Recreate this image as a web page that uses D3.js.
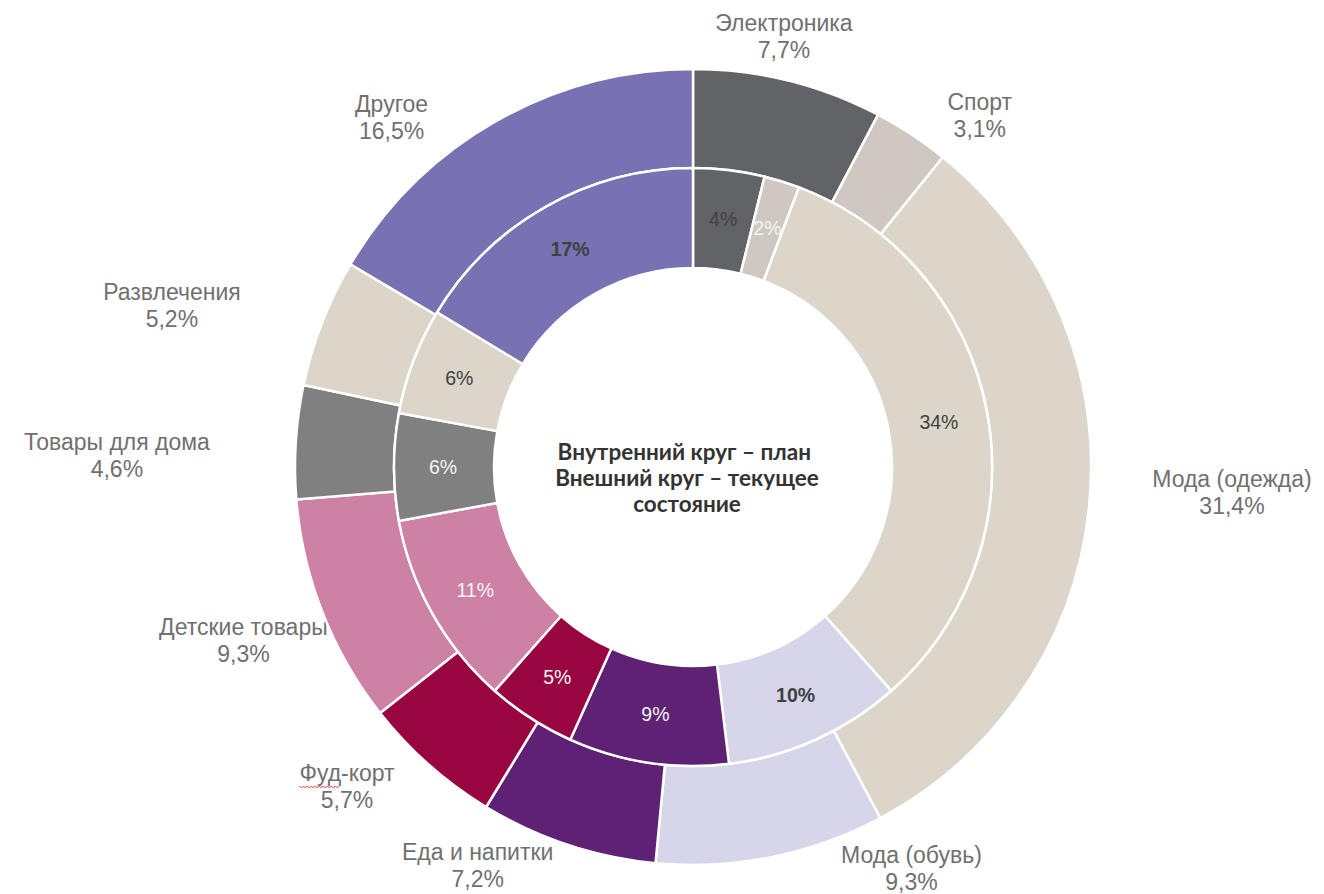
<!DOCTYPE html>
<html lang="ru">
<head>
<meta charset="utf-8">
<script src="https://cdn.jsdelivr.net/npm/d3@7"></script>
<style>
  html, body { margin: 0; padding: 0; background: #fff; }
  svg { display: block; }
  .cat-label { font-family: "Liberation Sans", Arial, sans-serif; font-size: 23px; fill: #707070; }
  .plan-label { font-family: "Liberation Sans", Arial, sans-serif; font-size: 19.5px; }
  .center-text { font-family: Lato, "Open Sans", sans-serif; font-weight: 700; font-size: 22.5px; fill: #333; }
</style>
</head>
<body>
<div id="chart"></div>
<script>
// categories, clockwise from 12 o'clock
const categories = ["Электроника", "Спорт", "Мода (одежда)", "Мода (обувь)", "Еда и напитки",
  "Фуд-корт", "Детские товары", "Товары для дома", "Развлечения", "Другое"];

// outer ring - current state, %
const currentShare = [7.7, 3.1, 31.4, 9.3, 7.2, 5.7, 9.3, 4.6, 5.2, 16.5];

// inner ring - plan, % (as labelled)
const planShare = [4, 2, 34, 10, 9, 5, 11, 6, 6, 17];

const centerLines = ["Внутренний круг – план ", "Внешний круг – текущее", "состояние"];

// palette + which inner labels are light
const colors = ["#626366", "#cec8c0", "#dbd6c9", "#d7d5ea", "#5f2173",
  "#980541", "#cd81a4", "#808080", "#dbd6c9", "#7872b3"];
const lightText = [false, true, false, false, true, true, true, true, false, false];
const boldText = [false, false, false, true, false, false, false, false, false, true];

// hand tweaks for the outer labels (Excel had them dragged around)
const labelNudge = [[-18, 10], [37, 27], [86, -19], [129, -46], [-72, -35],
  [-44, -22], [-26, 6], [-122, 16], [-97, 2], [-76, 44]];

const width = 1324, height = 894;
const cx = 693, cy = 467;
const rHole = 199, rMid = 299, rOuter = 398;

const ru = d3.formatLocale({decimal: ",", thousands: " ", grouping: [3], currency: ["", ""]});
const fmtPct = ru.format(".1f");

const svg = d3.select("#chart").append("svg")
    .attr("width", width)
    .attr("height", height);

const g = svg.append("g").attr("transform", "translate(" + cx + "," + cy + ")");

const pie = d3.pie().sort(null).value(d => d);

const outerArcs = pie(currentShare);
const innerArcs = pie(planShare);

const outerArc = d3.arc().innerRadius(rMid).outerRadius(rOuter);
const innerArc = d3.arc().innerRadius(rHole).outerRadius(rMid);
const labelArc = d3.arc().innerRadius(455).outerRadius(455);
const planLabelArc = d3.arc().innerRadius(250).outerRadius(250);

// labels of the outer ring go first, the slices sit on top of them
const labels = g.selectAll(".cat-label")
    .data(outerArcs)
    .enter().append("text")
    .attr("class", "cat-label")
    .attr("text-anchor", "middle")
    .attr("transform", (d, i) => {
        const c = labelArc.centroid(d);
        return "translate(" + (c[0] + labelNudge[i][0]) + "," + (c[1] + labelNudge[i][1]) + ")";
    });

labels.append("tspan").attr("x", 0).attr("y", -4).text((d, i) => categories[i]);
labels.append("tspan").attr("x", 0).attr("y", 23).text(d => fmtPct(d.data) + "%");

g.selectAll(".outer")
    .data(outerArcs)
    .enter().append("path")
    .attr("class", "outer")
    .attr("d", outerArc)
    .attr("fill", (d, i) => colors[i])
    .attr("stroke", "#fff")
    .attr("stroke-width", 2.5);

g.selectAll(".inner")
    .data(innerArcs)
    .enter().append("path")
    .attr("class", "inner")
    .attr("d", innerArc)
    .attr("fill", (d, i) => colors[i])
    .attr("stroke", "#fff")
    .attr("stroke-width", 2.5);

g.selectAll(".plan-label")
    .data(innerArcs)
    .enter().append("text")
    .attr("class", "plan-label")
    .attr("text-anchor", "middle")
    .attr("dy", "0.35em")
    .attr("transform", d => "translate(" + planLabelArc.centroid(d) + ")")
    .style("fill", (d, i) => lightText[i] ? "#f4f4f4" : "#404040")
    .style("font-weight", (d, i) => boldText[i] ? 700 : 400)
    .text(d => d.data + "%");

// spell-check squiggle under "Фуд" (it is in the screenshot)
labels.filter((d, i) => categories[i] === "Фуд-корт").each(function() {
    const node = d3.select(this).select("tspan").node();
    const tf = d3.select(this).attr("transform");
    const x0 = node.getStartPositionOfChar(0).x;
    const x1 = node.getEndPositionOfChar(2).x;
    const pts = d3.range(x0, x1 + 0.1, 2).map((x, k) => [x, 1 + (k % 2 ? 1.6 : -0.4)]);
    g.append("path")
        .attr("transform", tf)
        .attr("d", d3.line()(pts))
        .attr("fill", "none")
        .attr("stroke", "#e8393a")
        .attr("stroke-width", 1);
});

const centre = svg.append("text")
    .attr("class", "center-text")
    .attr("text-anchor", "middle")
    .attr("transform", "translate(" + (cx - 6) + "," + (cy - 7) + ")");

centre.selectAll("tspan")
    .data(centerLines)
    .enter().append("tspan")
    .attr("x", 0)
    .attr("y", (d, i) => i * 26)
    .attr("xml:space", "preserve")
    .style("white-space", "pre")
    .text(d => d);
</script>
</body>
</html>
